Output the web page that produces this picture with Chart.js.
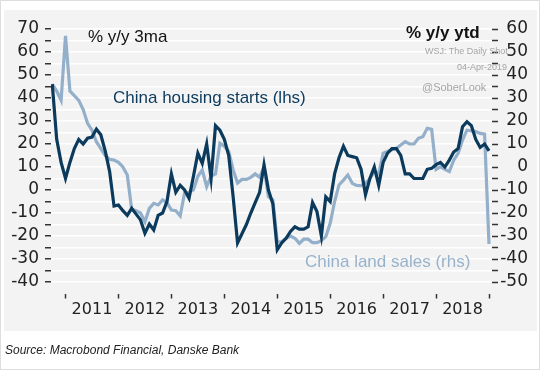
<!DOCTYPE html>
<html>
<head>
<meta charset="utf-8">
<script src="https://cdn.jsdelivr.net/npm/chart.js"></script>
<style>
  body { margin: 0; background: #fff; }
  #wrap { position: relative; width: 540px; height: 370px; }
  #frame { position: absolute; left: 0; top: 0; width: 540px; height: 370px; box-sizing: border-box; border: 1px solid #dedede; }
  #panel { position: absolute; left: 4px; top: 10px; width: 533px; height: 321px; background: #f3f3f3; }
  #chart { position: absolute; left: 0; top: 0; }
  .txt { position: absolute; white-space: nowrap; font-family: 'Liberation Sans', Arial, sans-serif; line-height: 1; }
</style>
</head>
<body>
<div id="wrap">
  <div id="frame"></div>
  <div id="panel"></div>
  <canvas id="chart" width="540" height="370"></canvas>
  <div class="txt" style="left:88px; top:28px; font-size:17px; color:#111;">% y/y 3ma</div>
  <div class="txt" style="left:406px; top:24px; font-size:17px; font-weight:bold; color:#111;">% y/y ytd</div>
  <div class="txt" style="left:425px; top:47px; font-size:9px; color:#a5a5a5;">WSJ: The Daily Shot</div>
  <div class="txt" style="left:457px; top:63px; font-size:9px; color:#a5a5a5;">04-Apr-2019</div>
  <div class="txt" style="left:422px; top:82px; font-size:11px; color:#a5a5a5;">@SoberLook</div>
  <div class="txt" style="left:113px; top:89px; font-size:17px; color:#0b3a5c;">China housing starts (lhs)</div>
  <div class="txt" style="left:305px; top:253px; font-size:17px; color:#98b2cb;">China land sales (rhs)</div>
  <div class="txt" style="left:5px; top:344px; font-size:12px; font-style:italic; color:#222;">Source: Macrobond Financial, Danske Bank</div>
</div>
<script>
// monthly observations, Oct 2010 .. Jan 2019
const months = [
    '2010-10', '2010-11', '2010-12',
    '2011-01', '2011-02', '2011-03', '2011-04', '2011-05', '2011-06', '2011-07', '2011-08', '2011-09', '2011-10', '2011-11', '2011-12',
    '2012-01', '2012-02', '2012-03', '2012-04', '2012-05', '2012-06', '2012-07', '2012-08', '2012-09', '2012-10', '2012-11', '2012-12',
    '2013-01', '2013-02', '2013-03', '2013-04', '2013-05', '2013-06', '2013-07', '2013-08', '2013-09', '2013-10', '2013-11', '2013-12',
    '2014-01', '2014-02', '2014-03', '2014-04', '2014-05', '2014-06', '2014-07', '2014-08', '2014-09', '2014-10', '2014-11', '2014-12',
    '2015-01', '2015-02', '2015-03', '2015-04', '2015-05', '2015-06', '2015-07', '2015-08', '2015-09', '2015-10', '2015-11', '2015-12',
    '2016-01', '2016-02', '2016-03', '2016-04', '2016-05', '2016-06', '2016-07', '2016-08', '2016-09', '2016-10', '2016-11', '2016-12',
    '2017-01', '2017-02', '2017-03', '2017-04', '2017-05', '2017-06', '2017-07', '2017-08', '2017-09', '2017-10', '2017-11', '2017-12',
    '2018-01', '2018-02', '2018-03', '2018-04', '2018-05', '2018-06', '2018-07', '2018-08', '2018-09', '2018-10', '2018-11', '2018-12',
    '2019-01'
];

// China housing starts, % y/y 3ma (left axis)
const housingStarts = [
    46, 22, 12, 5, 12, 18, 22, 20, 22.5, 23,
    26.5, 24, 17, 8, -7, -6.5, -9, -11, -8, -10.5,
    -13, -18.8, -14.8, -17.4, -11, -10, -5, 7, -1, 2,
    0, -3.6, 6, 16, 11.6, 20, 5, 28, 26, 22,
    15, -3, -23, -19, -15, -10, -5.5, -1, 11, 0,
    -6, -26, -23, -21, -18, -16, -17, -17, -16, -5.5,
    -9.4, -20, -3, -5, 7, 14, 19, 15, 14.5, 14,
    9, -2, 5, 10, 2, 12, 16, 18, 18, 15,
    7, 7, 5, 5, 5, 9, 9.4, 11, 12, 10,
    13, 16.5, 18, 27.5, 29.7, 28, 22, 18.5, 20, 17
];

// China land sales, % y/y ytd (right axis)
const landSales = [
    36, 33, 29, 57, 33, 31, 29, 25, 19, 16,
    11, 8, 5, 3.3, 3, 2, 0, -3.5, -18.4, -19,
    -20, -23.8, -18, -15.8, -16.5, -14.3, -15.5, -18.7, -19, -21.3,
    -11.2, -11, -10, -4, -1.3, -8.6, -3.9, -3, 10.3, 9,
    6.7, -1.3, -7, -5.4, -5.4, -4.5, -3, -4.5, 0, -12.9,
    -14.3, -32.5, -32.5, -31, -30, -31, -33.2, -31.4, -31.4, -32.9,
    -32.9, -32, -30.3, -24.5, -15, -7.8, -5.7, -3.5, -7.1, -8,
    -8.1, -7.1, -5, -2, -3, 6, 6.7, 7.5, 8.1, 9.6,
    11, 10, 10, 12.5, 13.2, 16.8, 16.4, -1, 0.1, -1,
    -2, 3, 6, 11.7, 16, 15.7, 15.4, 14.6, 14.3, -33.5
];

const years = ['2011', '2012', '2013', '2014', '2015', '2016', '2017', '2018'];

// months counted from Jan 2011
function monthIndex(label) {
    const parts = label.split('-');
    return (parseInt(parts[0]) - 2011) * 12 + parseInt(parts[1]) - 1;
}

function toPoints(values) {
    return months.map((m, i) => ({ x: monthIndex(m), y: values[i] }));
}

const tickFont = { family: 'DejaVu Sans', size: 17 };
const hidden = 'rgba(0,0,0,0)';

new Chart(document.getElementById('chart').getContext('2d'), {
    type: 'line',
    data: {
        datasets: [{
            label: 'China housing starts (lhs)',
            data: toPoints(housingStarts),
            borderColor: '#0b3a5c',
            borderWidth: 3.2,
            pointRadius: 0,
            tension: 0,
            yAxisID: 'y'
        }, {
            label: 'China land sales (rhs)',
            data: toPoints(landSales),
            borderColor: '#93afca',
            borderWidth: 3.2,
            pointRadius: 0,
            tension: 0,
            yAxisID: 'y2'
        }]
    },
    options: {
        responsive: false,
        animation: false,
        layout: { padding: { left: 4, right: 12, top: 29, bottom: 52.5 } },
        plugins: {
            legend: { display: false },
            tooltip: { enabled: false }
        },
        scales: {
            x: {
                type: 'linear',
                min: -3.29,
                max: 96.68,
                afterBuildTicks: function (scale) {
                    const ticks = [];
                    years.forEach((y, i) => {
                        ticks.push({ value: i * 12 });
                        ticks.push({ value: i * 12 + 6 });
                    });
                    ticks.push({ value: years.length * 12 });
                    scale.ticks = ticks;
                },
                afterFit: function (scale) { scale.height = 24; },
                ticks: {
                    autoSkip: false,
                    maxRotation: 0,
                    padding: 2,
                    color: '#222',
                    font: { family: 'DejaVu Sans', size: 16 },
                    callback: v => (v % 12 === 6 ? years[(v - 6) / 12] : '')
                },
                grid: {
                    drawOnChartArea: false,
                    tickLength: 5,
                    tickWidth: 1.5,
                    tickColor: ctx => (ctx.tick && ctx.tick.value % 12 === 0 ? '#333' : hidden)
                },
                border: { display: false }
            },
            y: {
                position: 'left',
                min: -45,
                max: 70,
                afterFit: function (scale) { scale.width = 47; },
                ticks: {
                    stepSize: 5,
                    autoSkip: false,
                    padding: 6,
                    color: '#222',
                    font: tickFont,
                    callback: v => (v % 10 === 0 ? v : '')
                },
                grid: {
                    color: ctx => (ctx.tick && ctx.tick.value === -45 ? hidden : '#ffffff'),
                    lineWidth: 1.5,
                    tickLength: 6,
                    tickWidth: 1.5,
                    tickColor: ctx => (ctx.tick && ctx.tick.value === -45 ? hidden : '#333')
                },
                border: { display: false }
            },
            y2: {
                position: 'right',
                min: -55,
                max: 60,
                afterFit: function (scale) { scale.width = 36; },
                ticks: {
                    stepSize: 5,
                    autoSkip: false,
                    padding: 4,
                    crossAlign: 'far',
                    color: '#222',
                    font: tickFont,
                    callback: v => (v % 10 === 0 ? v : '')
                },
                grid: {
                    drawOnChartArea: false,
                    tickLength: 6,
                    tickWidth: 1.5,
                    tickColor: ctx => (ctx.tick && ctx.tick.value === -55 ? hidden : '#333')
                },
                border: { display: false }
            }
        }
    }
});
</script>
</body>
</html>
